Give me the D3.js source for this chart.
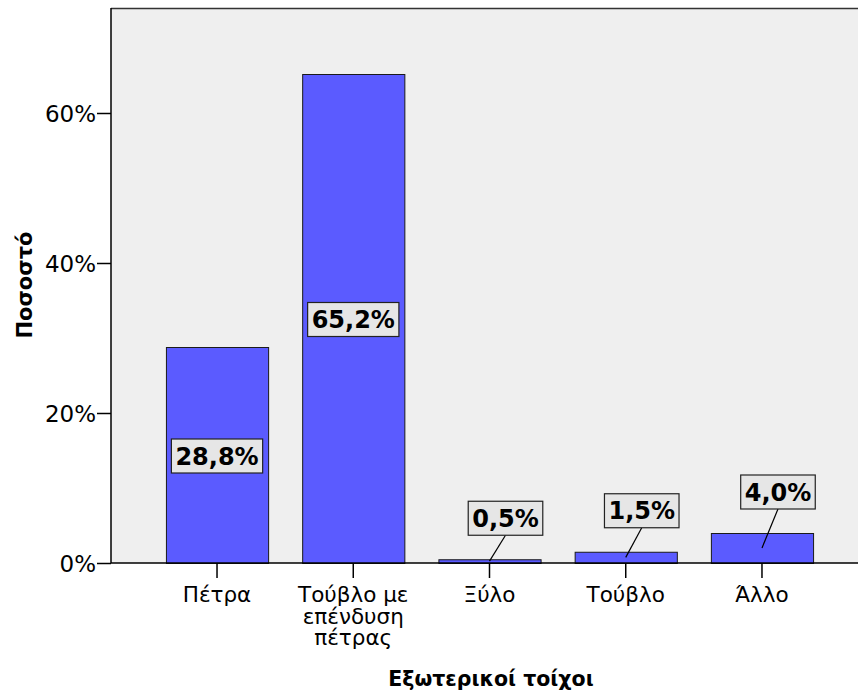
<!DOCTYPE html>
<html><head><meta charset="utf-8">
<script src="https://cdn.jsdelivr.net/npm/d3@7"></script>
<style>
body{margin:0;background:#fff;}
text{font-family:"DejaVu Sans",Verdana,sans-serif;fill:#000;}
</style></head>
<body><svg id="c" width="858" height="695"></svg>
<script>
const categories = [["Πέτρα"], ["Τούβλο με","επένδυση","πέτρας"], ["Ξύλο"], ["Τούβλο"], ["Άλλο"]];
const values = [28.8, 65.2, 0.5, 1.5, 4.0];
const valueLabels = ["28,8%", "65,2%", "0,5%", "1,5%", "4,0%"];
const yTicks = [0, 20, 40, 60];
const yTitle = "Ποσοστό";
const xTitle = "Εξωτερικοί τοίχοι";

const svg = d3.select("#c");
const L = 111, T = 8, B = 563, R = 858;
const y = d3.scaleLinear().domain([0, 74]).range([B, T]);
const keys = categories.map((c,i)=>i);
const x = d3.scaleBand().domain(keys).range([148.9, 830.1]).paddingInner(0.25).paddingOuter(0.125);

svg.append("rect").attr("x", L).attr("y", T).attr("width", R - L + 2).attr("height", B - T)
  .attr("fill", "#efefef");
svg.append("line").attr("x1", L).attr("x2", R).attr("y1", T+0.5).attr("y2", T+0.5)
  .attr("stroke", "#333").attr("stroke-width", 1.5);

// bars
svg.selectAll(".bar").data(values).join("rect")
  .attr("x", (d,i)=>x(i)+0.5).attr("y", d=>y(d)+0.5)
  .attr("width", x.bandwidth()).attr("height", d=>B - y(d))
  .attr("fill", "#5b5bff").attr("stroke", "#1a1a1a").attr("stroke-width", 1);

// axes
const yAxis = d3.axisLeft(y).tickValues(yTicks).tickFormat(d=>d+"%").tickSize(14).tickPadding(1);
const gy = svg.append("g").attr("transform", `translate(${L},0)`).call(yAxis);
gy.select(".domain").attr("stroke", "#000").attr("stroke-width", 1.5).attr("d", `M0,${T}V${B}`);
gy.selectAll(".tick line").attr("stroke", "#000").attr("stroke-width", 1.5);
gy.selectAll(".tick text").attr("font-size", 23).attr("font-family", "DejaVu Sans").attr("fill", "#000").attr("dy", "0.36em");

const xAxis = d3.axisBottom(x).tickSize(15).tickFormat("");
const gx = svg.append("g").attr("transform", `translate(0,${B})`).call(xAxis);
gx.select(".domain").attr("stroke", "#000").attr("stroke-width", 1.5).attr("d", `M${L},0H${R}`);
gx.selectAll(".tick line").attr("stroke", "#000").attr("stroke-width", 1.5);
gx.selectAll(".tick").each(function(d){
  const t = d3.select(this).append("text").attr("text-anchor", "middle").attr("font-size", 21.5).attr("fill", "#000");
  categories[d].forEach((line, j)=>{
    t.append("tspan").attr("x", 0).attr("y", 39 + j*21.5).text(line);
  });
});

// value labels
const lineLayer = svg.append("g");
const labelLayer = svg.append("g");
values.forEach((v,i)=>{
  const cx = x(i) + x.bandwidth()/2;
  const inside = v > 10;
  const g = labelLayer.append("g");
  const rect = g.append("rect");
  const txt = g.append("text").attr("text-anchor","middle").attr("font-size", 24).attr("font-weight","bold")
    .text(valueLabels[i]);
  const bb = txt.node().getBBox();
  const w = bb.width + 8, h = 34;
  let bx, by;
  if (inside) {
    bx = cx; by = (y(v) + B)/2 + 1;
  } else {
    bx = cx + 16; by = y(v) - 24 - h/2;
    lineLayer.append("line").attr("x1", cx).attr("y1", (y(v)+B)/2).attr("x2", bx).attr("y2", by + h/2)
      .attr("stroke", "#000").attr("stroke-width", 1.2);
  }
  rect.attr("x", bx - w/2).attr("y", by - h/2).attr("width", w).attr("height", h)
    .attr("fill", "#e6e6e6").attr("stroke", "#222").attr("stroke-width", 1.2);
  txt.attr("x", bx).attr("y", by).attr("dy", "0.36em");
});

// titles
svg.append("text").attr("transform", "translate(32,285) rotate(-90)").attr("text-anchor","middle")
  .attr("font-size", 21).attr("font-weight","bold").text(yTitle);
svg.append("text").attr("x", 491).attr("y", 686).attr("text-anchor","middle")
  .attr("font-size", 20.5).attr("font-weight","bold").text(xTitle);
</script></body></html>
